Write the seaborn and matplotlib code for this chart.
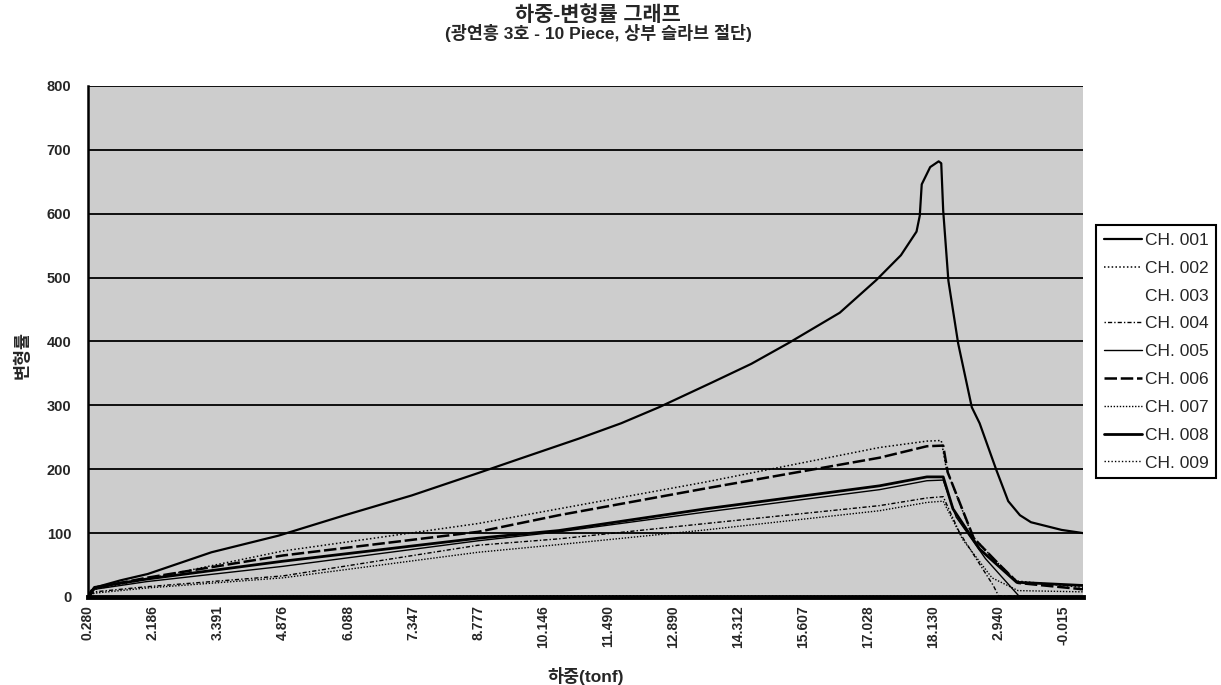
import numpy as np
import pandas as pd
import matplotlib
matplotlib.use("Agg")
import matplotlib.pyplot as plt
import seaborn as sns

# ── 데이터 (그림에서 읽은 값, x는 눈금 간격 단위) ────────────────
LOAD_LABELS = ["0.280", "2.186", "3.391", "4.876", "6.088", "7.347", "8.777", "10.146",
               "11.490", "12.890", "14.312", "15.607", "17.028", "18.130", "2.940", "-0.015"]

CH001_X = [0, 0.05, 0.15, 0.5, 0.92, 1.9, 2.93, 3.95, 4.98, 6.0, 6.6, 7.55, 8.2, 8.78, 9.6,
           10.2, 10.78, 11.56, 12.12, 12.5, 12.74, 12.79, 12.82, 12.95, 13.08, 13.12, 13.15,
           13.23, 13.38, 13.59, 13.71, 13.97, 14.15, 14.33, 14.5, 14.97, 15.3]
CH001_Y = [0, 10, 16, 26, 36, 70, 96, 128, 159, 194, 215, 248, 272, 297, 336,
           365, 398, 445, 496, 535, 572, 597, 646, 673, 682, 679, 605,
           495, 397, 297, 272, 198, 150, 128, 117, 105, 100]

CH002_X = [0, 0.1, 0.9, 3.0, 6.0, 7.24, 9.5, 12.17, 12.9, 13.12, 13.2, 13.6, 13.97, 14.28, 15.3]
CH002_Y = [0, 12, 28, 72, 115, 138, 180, 234, 244, 245, 200, 95, 55, 25, 15]

CH003_X = [0, 15.3]
CH003_Y = [0, 0]

CH004_X = [0, 0.1, 0.9, 3.0, 6.0, 7.24, 9.5, 12.17, 12.9, 13.15, 13.4, 13.92, 14.0, 15.3]
CH004_Y = [0, 8, 16, 33, 81, 91, 115, 143, 155, 157, 101, 18, 2, 0]

CH005_X = [0, 0.1, 0.9, 3.0, 6.0, 7.24, 9.5, 12.17, 12.9, 13.15, 13.35, 13.8, 14.31, 15.3]
CH005_Y = [0, 12, 24, 48, 88, 102, 133, 168, 182, 183, 125, 60, 2, 0]

CH006_X = [0, 0.1, 0.9, 3.0, 6.0, 7.24, 9.5, 12.17, 12.9, 13.15, 13.22, 13.62, 14.0, 14.3, 15.3]
CH006_Y = [0, 14, 30, 65, 102, 128, 170, 218, 236, 237, 195, 92, 52, 22, 12]

CH007_X = [0, 0.1, 0.9, 3.0, 6.0, 7.24, 9.5, 12.17, 12.9, 13.15, 13.45, 13.9, 14.3, 15.3]
CH007_Y = [0, 6, 14, 30, 70, 82, 105, 135, 148, 150, 90, 30, 10, 8]

CH008_X = [0, 0.1, 0.9, 3.0, 6.0, 7.24, 9.5, 12.17, 12.9, 13.15, 13.3, 13.71, 14.28, 15.3]
CH008_Y = [0, 15, 28, 56, 92, 104, 138, 174, 188, 188, 138, 75, 23, 18]

CH009_X = [0, 3.0, 8.0, 13.0, 15.3]
CH009_Y = [0, 1, 2, 1, 0]

CHANNELS = ["CH. 001", "CH. 002", "CH. 003", "CH. 004", "CH. 005",
            "CH. 006", "CH. 007", "CH. 008", "CH. 009"]
SERIES = [(CH001_X, CH001_Y), (CH002_X, CH002_Y), (CH003_X, CH003_Y),
          (CH004_X, CH004_Y), (CH005_X, CH005_Y), (CH006_X, CH006_Y),
          (CH007_X, CH007_Y), (CH008_X, CH008_Y), (CH009_X, CH009_Y)]

# ── 선 스타일 ───────────────────────────────────────────────
STYLES = {
    "CH. 001": dict(ls="-", lw=1.6),
    "CH. 002": dict(ls=(0, (1, 1.5)), lw=1.1),
    "CH. 003": dict(ls="none", lw=1.0),
    "CH. 004": dict(ls=(0, (1, 1.5, 3, 1.5)), lw=1.0),
    "CH. 005": dict(ls="-", lw=1.0),
    "CH. 006": dict(ls=(0, (5, 1.5)), lw=1.8),
    "CH. 007": dict(ls=(0, (1, 1.2)), lw=1.0),
    "CH. 008": dict(ls="-", lw=2.0),
    "CH. 009": dict(ls=(0, (1, 1.5)), lw=1.0),
}

sns.set_theme(style="white")
plt.rcParams["font.family"] = ["Liberation Sans", "Noto Sans CJK KR", "DejaVu Sans"]
plt.rcParams["axes.unicode_minus"] = False

fig = plt.figure(figsize=(12.21, 6.85), dpi=100)
ax = fig.add_axes([0.072, 0.1285, 0.815, 0.746])
ax.set_facecolor("#cdcdcd")

for ch, (xs, ys) in zip(CHANNELS, SERIES):
    df = pd.DataFrame({"pos": xs, "strain": ys})
    st = STYLES[ch]
    sns.lineplot(data=df, x="pos", y="strain", ax=ax, color="black",
                 sort=False, estimator=None, label=ch, linewidth=st["lw"])
    ax.lines[-1].set_linestyle(st["ls"])

ax.set_xlim(0, 15.3)
ax.set_ylim(0, 800)
ax.set_yticks(np.arange(0, 801, 100))
ax.set_xticks(np.arange(len(LOAD_LABELS)))
ax.set_xticklabels(LOAD_LABELS, rotation=90)
ax.tick_params(axis="y", length=0, pad=12, labelsize=10.5)
ax.tick_params(axis="x", length=0, pad=6, labelsize=10)
for lab in ax.get_xticklabels() + ax.get_yticklabels():
    lab.set_fontweight("bold")

ax.yaxis.grid(True, color="black", lw=1.3)
ax.xaxis.grid(False)
ax.set_axisbelow(True)
for side in ["top", "right"]:
    ax.spines[side].set_visible(False)
ax.spines["left"].set_color("black")
ax.spines["left"].set_linewidth(1.8)
ax.spines["bottom"].set_color("black")
ax.spines["bottom"].set_linewidth(3.5)

ax.set_xlabel("하중(tonf)", fontsize=12.5, fontweight="bold")
ax.xaxis.set_label_coords(0.5, -0.138)
ax.set_ylabel("변형률", fontsize=12.5, fontweight="bold")
ax.yaxis.set_label_coords(-0.058, 0.474)

fig.text(0.49, 0.978, "하중-변형률 그래프", ha="center", va="center",
         fontsize=15, fontweight="bold")
fig.text(0.49, 0.952, "(광연흥 3호 - 10 Piece, 상부 슬라브 절단)", ha="center", va="center",
         fontsize=12.5, fontweight="bold")

leg = ax.legend(loc="upper left", bbox_to_anchor=(1.013, 0.728), frameon=True,
                fancybox=False, edgecolor="black", facecolor="white", framealpha=1,
                fontsize=12.5, handlelength=2.2, labelspacing=0.73, borderpad=0.45,
                handletextpad=0.15, borderaxespad=0)
leg.get_frame().set_linewidth(1.5)

fig.savefig("out.png", dpi=100)
